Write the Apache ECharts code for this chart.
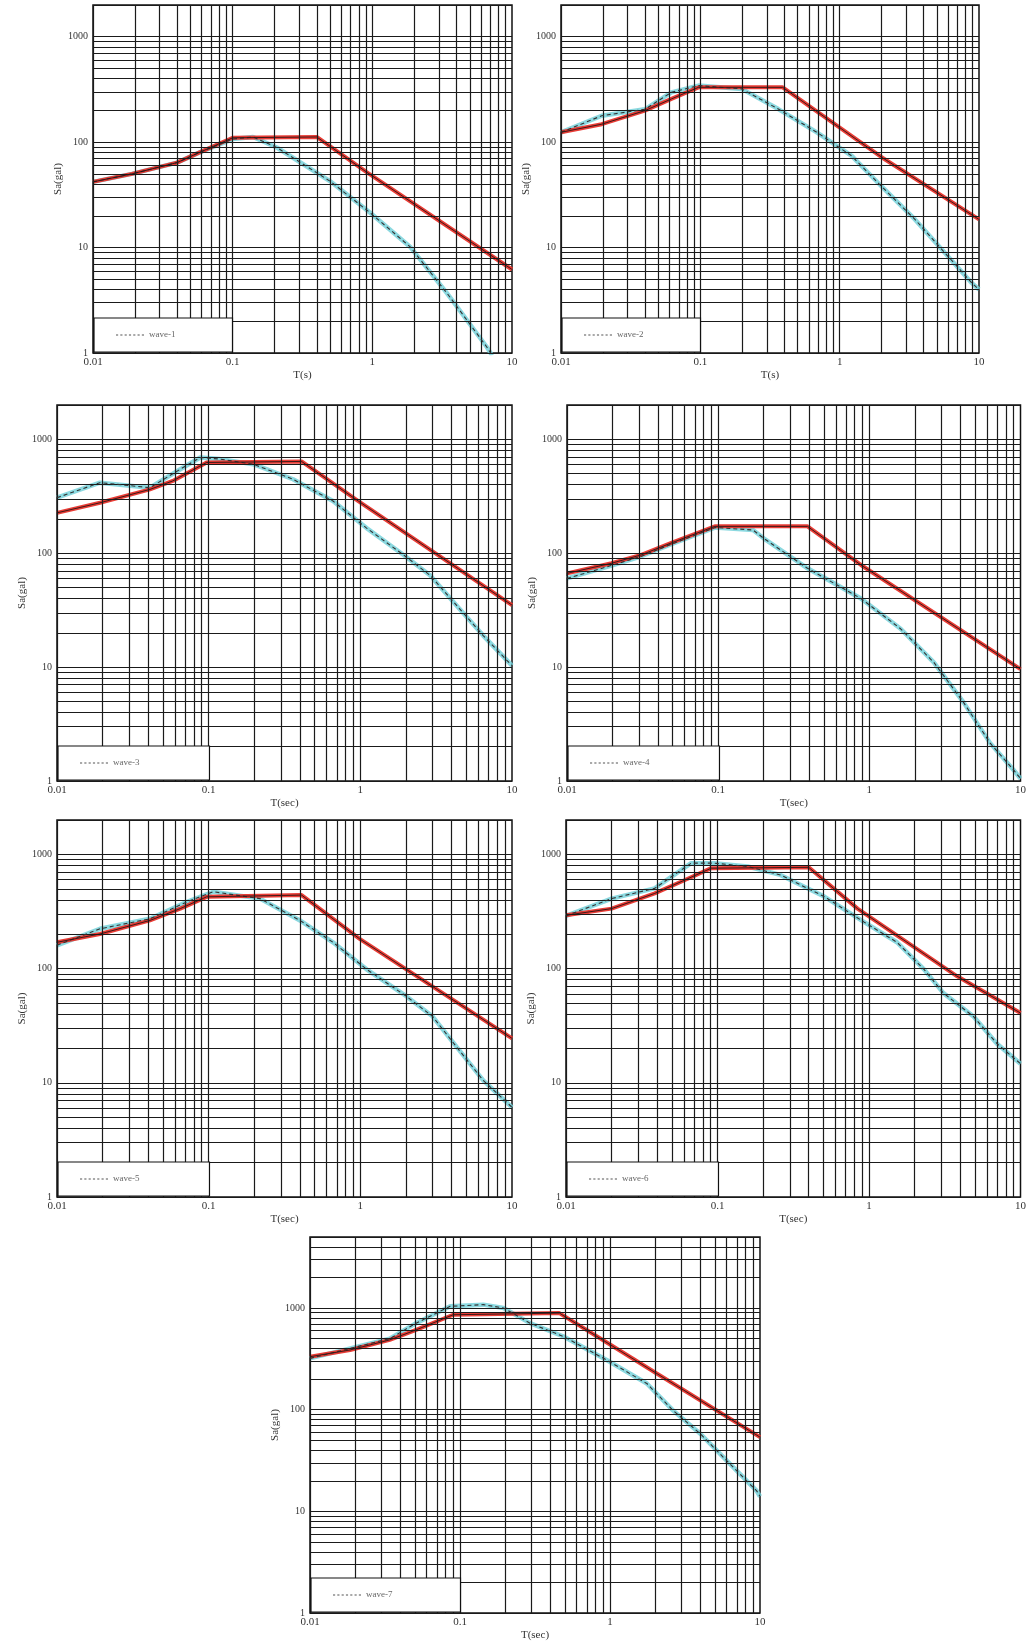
<!DOCTYPE html>
<html><head><meta charset="utf-8">
<script src="https://cdn.jsdelivr.net/npm/echarts@6/dist/echarts.min.js"></script>
<style>html,body{margin:0;padding:0;background:#fff}#c{width:1029px;height:1647px}</style>
</head><body><div id="c"></div>
<script>
// ---------- data ----------
const xTickLabels = ['0.01', '0.1', '1', '10'];
const yTickLabels = ['1', '10', '100', '1000'];
const panelNames = ['wave-1', 'wave-2', 'wave-3', 'wave-4', 'wave-5', 'wave-6', 'wave-7'];
const xAxisNames = ['T(s)', 'T(s)', 'T(sec)', 'T(sec)', 'T(sec)', 'T(sec)', 'T(sec)'];
const yAxisName = 'Sa(gal)';
const yMaxes = [2000, 2000, 2000, 2000, 2000, 2000, 5000];

// design spectra [T (s), Sa (gal)]
const designA = [[0.01,42],[0.019,50],[0.04,64],[0.058,80],[0.1,110],[0.4,112],[0.91,52],[10,6.2]];
const designB = [[0.01,124],[0.0196,148],[0.04,199],[0.062,257],[0.097,331],[0.39,331],[2.0,72],[10,18.5]];
const designC = [[0.01,226],[0.0192,277],[0.041,363],[0.058,431],[0.097,626],[0.41,639],[0.97,287],[10,35]];
const designD = [[0.01,66.5],[0.0197,81.6],[0.031,96.7],[0.049,123],[0.095,172],[0.39,172],[0.88,78.8],[10,9.6]];
const designE = [[0.01,170],[0.0192,201],[0.041,264],[0.065,335],[0.097,425],[0.41,440],[0.99,182],[10,24.5]];
const designF = [[0.01,293],[0.02,335],[0.0385,455],[0.061,597],[0.091,757],[0.4,770],[0.84,335],[3.8,86],[10,40.8]];
const designG = [[0.01,332],[0.0185,387],[0.034,486],[0.051,610],[0.09,859],[0.46,892],[0.97,450],[2.05,227],[10,53.7]];

// response spectra of records [T (s), Sa (gal)]
const recordA = [[0.01,42],[0.019,50],[0.04,64],[0.058,80],[0.1,107],[0.14,112],[0.207,89],[0.5,42.5],[0.96,21.5],[1.86,10.2],[3.42,3.7],[6.6,1.14],[7.2,0.95]];
const recordB = [[0.01,124],[0.0196,178],[0.04,205],[0.062,297],[0.097,344],[0.198,320],[0.363,206],[0.686,124],[1.22,74],[2.0,38],[3.47,18.5],[5.7,8.9],[8.9,4.6],[10,4.0]];
const recordC = [[0.01,307],[0.0192,416],[0.041,376],[0.065,546],[0.088,692],[0.119,670],[0.197,604],[0.36,446],[0.66,287],[1.1,166],[1.92,97],[2.88,64],[4.5,32.6],[6.46,18.9],[10,10.3]];
const recordD = [[0.01,60],[0.0197,78],[0.031,94],[0.049,120],[0.095,168],[0.17,160],[0.2,135],[0.39,73.7],[0.88,40],[1.61,21.7],[2.67,11],[4.2,4.9],[6.3,2.15],[9.0,1.25],[10,1.05]];
const recordE = [[0.01,160],[0.0192,223],[0.041,273],[0.072,384],[0.107,471],[0.218,410],[0.4,264],[0.66,170],[1.1,98.6],[2.02,57],[3.0,38],[4.3,20.7],[6.46,10.5],[10,6.1]];
const recordF = [[0.01,290],[0.02,410],[0.0385,504],[0.067,838],[0.095,838],[0.158,783],[0.26,661],[0.51,425],[0.93,255],[1.53,170],[2.3,99],[3.1,61],[4.9,38],[7.0,22],[10,14.7]];
const recordG = [[0.01,320],[0.034,500],[0.051,710],[0.086,1040],[0.143,1080],[0.195,1000],[0.293,710],[0.49,525],[0.95,308],[1.76,181],[2.64,98],[4.0,58],[6.0,31.5],[9.5,15.9],[10,14]];

const designs = [designA, designB, designC, designD, designE, designF, designG];
const records = [recordA, recordB, recordC, recordD, recordE, recordF, recordG];

// ---------- layout ----------
const W = 1029, H = 1647;
const boxes = [
  {left: 93,  top: 5,    width: 419, height: 348, legendRight: 57},
  {left: 561, top: 5,    width: 418, height: 348, legendRight: 57},
  {left: 57,  top: 405,  width: 455, height: 376, legendRight: 70},
  {left: 567, top: 405,  width: 455, height: 376, legendRight: 70},
  {left: 57,  top: 820,  width: 455, height: 377, legendRight: 70},
  {left: 566, top: 820,  width: 456, height: 377, legendRight: 70},
  {left: 310, top: 1237, width: 450, height: 376, legendRight: 68}
];

function logGrid(lo, hi) {
  const out = [];
  for (let e = Math.round(Math.log10(lo)); Math.pow(10, e) < hi; e++) {
    for (let m = 1; m <= 9; m++) {
      const v = +(m * Math.pow(10, e)).toPrecision(6);
      if (v >= lo && v <= hi) out.push(v);
    }
  }
  return out;
}

const FONT = 'Liberation Serif';
const DOTS = 'path://M0,0h2v1h-2z M4,0h2v1h-2z M8,0h2v1h-2z M12,0h2v1h-2z M16,0h2v1h-2z M20,0h2v1h-2z M24,0h2v1h-2z';
const grid = [], xAxis = [], yAxis = [], series = [], legend = [];

boxes.forEach((b, i) => {
  grid.push({left: b.left, top: b.top, width: b.width, height: b.height,
    show: true, borderColor: '#111', borderWidth: 1.5, backgroundColor: '#fff', containLabel: false});
  xAxis.push({type: 'log', gridIndex: i, min: 0.01, max: 10, logBase: 10,
    name: xAxisNames[i], nameLocation: 'middle', nameGap: 17,
    nameTextStyle: {fontFamily: FONT, fontSize: 11, color: '#333'},
    axisLine: {show: false}, axisTick: {show: false}, splitLine: {show: false},
    axisLabel: {fontFamily: FONT, fontSize: 11, color: '#333', margin: 4,
      showMinLabel: true, showMaxLabel: true,
      formatter: v => { const l = Math.log10(v); const r = Math.round(l);
        return Math.abs(l - r) < 1e-6 ? xTickLabels[r + 2] : ''; }}});
  yAxis.push({type: 'log', gridIndex: i, min: 1, max: yMaxes[i], logBase: 10,
    name: yAxisName, nameLocation: 'middle', nameGap: 28,
    nameTextStyle: {fontFamily: FONT, fontSize: 11, color: '#333'},
    axisLine: {show: false}, axisTick: {show: false}, splitLine: {show: false},
    axisLabel: {fontFamily: FONT, fontSize: 10, color: '#333', margin: 5,
      formatter: v => { const l = Math.log10(v); const r = Math.round(l);
        return Math.abs(l - r) < 1e-6 && r >= 0 && r <= 3 ? yTickLabels[r] : ''; }}});

  // log grid lines drawn through the axes
  const gx = logGrid(0.01, 10), gy = logGrid(1, yMaxes[i]);
  series.push({type: 'line', xAxisIndex: i, yAxisIndex: i, data: [], silent: true, z: 1,
    markLine: {silent: true, symbol: ['none', 'none'], label: {show: false}, animation: false,
      lineStyle: {color: '#1a1a1a', width: 1.2, type: 'solid'},
      data: gx.map(v => ({xAxis: v})).concat(gy.map(v => ({yAxis: v})))}});

  series.push({type: 'line', name: panelNames[i] + ' ', xAxisIndex: i, yAxisIndex: i, data: records[i],
    showSymbol: false, z: 3, lineStyle: {color: '#6fd0d8', width: 4.5, opacity: 0.8}});
  series.push({type: 'line', name: 'design' + i, xAxisIndex: i, yAxisIndex: i, data: designs[i],
    showSymbol: false, z: 4, lineStyle: {color: '#e8322a', width: 4, opacity: 0.95}});
  series.push({type: 'line', name: panelNames[i], xAxisIndex: i, yAxisIndex: i, data: records[i],
    showSymbol: false, symbol: 'none', z: 5, itemStyle: {color: '#444'},
    lineStyle: {color: '#333', width: 1.1, type: [4, 3]}});
  series.push({type: 'line', name: 'designk' + i, xAxisIndex: i, yAxisIndex: i, data: designs[i],
    showSymbol: false, z: 6, lineStyle: {color: '#2a1515', width: 0.9}});

  legend.push({data: [{name: panelNames[i], icon: DOTS, itemStyle: {color: '#555', borderWidth: 0}}],
    left: b.left + 1, bottom: H - (b.top + b.height) + 1,
    backgroundColor: '#fff', borderColor: '#111', borderWidth: 1.2,
    padding: [11, b.legendRight, 11, 22], itemWidth: 28, itemHeight: 2, itemGap: 4, selectedMode: false, z: 10,
    textStyle: {fontFamily: FONT, fontSize: 9, color: '#666', lineHeight: 12, height: 12}});
});

const chart = echarts.init(document.getElementById('c'), null, {renderer: 'canvas'});
chart.setOption({animation: false, backgroundColor: '#fff', grid, xAxis, yAxis, series, legend});
</script></body></html>
